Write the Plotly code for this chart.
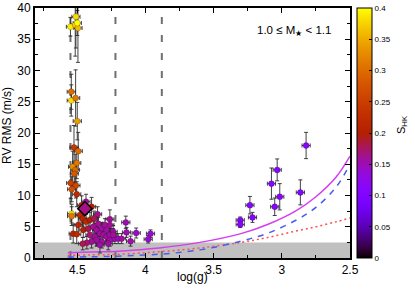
import numpy as np
import plotly.graph_objects as go

# ---- data: stars (log g, RV RMS, RMS error, S_HK) ----
logg = [4.51, 4.55, 4.515, 4.495, 4.50,
        4.544, 4.544, 4.512, 4.50, 4.524, 4.493, 4.504, 4.534, 4.515, 4.522,
        4.548, 4.51, 4.541, 4.504, 4.436, 4.468, 4.395, 4.541, 4.541, 4.48,
        4.351, 4.46, 4.436, 4.407, 4.376, 4.261, 4.144, 4.493, 4.53, 4.504,
        4.456, 4.42, 4.383, 4.358, 4.32, 4.285, 4.261, 4.297, 4.346, 4.237,
        4.334, 4.31, 4.37, 4.407, 4.285, 4.261, 4.32, 4.334, 4.358, 4.395,
        4.43, 4.46, 4.224, 4.20, 4.175, 4.139, 4.109, 4.068, 3.98, 3.963,
        4.261, 4.273, 4.237,
        2.822, 3.034, 3.076, 3.015, 3.052, 2.864, 3.234, 3.215, 3.305, 3.305]
rv_rms = [38.6, 37.0, 37.3, 36.8, 37.6,
          26.6, 25.2, 25.6, 21.9, 17.7, 17.1, 15.2, 14.6, 14.1, 13.5,
          12.0, 11.6, 11.0, 10.2, 9.0, 8.45, 8.2, 7.1, 6.7, 6.9,
          7.0, 6.3, 5.8, 6.1, 6.3, 6.2, 5.7, 5.3, 3.9, 3.8,
          4.5, 4.7, 5.0, 4.5, 4.7, 4.5, 5.3, 5.3, 5.5, 4.2,
          3.9, 3.7, 3.4, 3.7, 3.4, 2.9, 2.6, 2.1, 2.9, 2.6,
          2.45, 2.3, 3.1, 3.1, 3.1, 4.1, 2.7, 4.0, 3.0, 3.9,
          3.7, 2.3, 3.7,
          18.0, 14.1, 11.9, 9.8, 8.2, 10.5, 8.45, 6.5, 6.06, 5.37]
rv_err = [5.0, 1.5, 5.0, 5.5, 2.0,
          2.8, 2.5, 4.5, 3.0, 3.5, 3.0, 2.5, 2.5, 2.5, 2.0,
          2.5, 2.0, 2.0, 2.0, 1.2, 1.5, 1.5, 1.5, 1.5, 1.5,
          1.2, 1.2, 1.2, 1.2, 1.2, 1.5, 1.0, 1.5, 1.5, 1.5,
          1.2, 1.2, 1.0, 1.0, 1.0, 1.0, 1.2, 1.0, 1.0, 1.0,
          1.0, 1.0, 1.0, 1.0, 1.0, 1.0, 1.0, 1.3, 1.0, 1.0,
          1.0, 1.0, 0.8, 0.8, 0.8, 0.8, 0.8, 0.8, 0.6, 0.6,
          1.0, 1.0, 1.0,
          2.1, 1.75, 2.5, 2.1, 1.4, 2.0, 1.4, 0.8, 0.5, 0.5]
s_hk = [0.38, 0.39, 0.37, 0.36, 0.40,
        0.30, 0.38, 0.31, 0.34, 0.24, 0.30, 0.31, 0.33, 0.30, 0.28,
        0.25, 0.26, 0.27, 0.22, 0.16, 0.22, 0.20, 0.38, 0.31, 0.22,
        0.165, 0.21, 0.22, 0.20, 0.18, 0.16, 0.15, 0.21, 0.21, 0.22,
        0.20, 0.18, 0.16, 0.16, 0.155, 0.155, 0.16, 0.16, 0.16, 0.155,
        0.155, 0.16, 0.16, 0.17, 0.155, 0.155, 0.16, 0.155, 0.155, 0.16,
        0.17, 0.18, 0.15, 0.15, 0.155, 0.15, 0.155, 0.14, 0.14, 0.14,
        0.155, 0.155, 0.16,
        0.11, 0.11, 0.11, 0.11, 0.11, 0.11, 0.11, 0.11, 0.11, 0.11]
logg_err = 0.03

# highlighted star (diamond)
sun_logg = [4.444]
sun_rms = [7.9]
sun_shk = [0.165]

# model curves
curve_logg = [4.57, 4.4, 4.2, 3.9, 3.6, 3.3, 3.1, 2.9, 2.75, 2.6, 2.5]
curve_solid = [0.85, 0.95, 1.1, 1.6, 2.5, 3.9, 5.4, 7.5, 9.8, 13.0, 16.3]
curve_dashed = [0.15, 0.2, 0.3, 0.6, 1.3, 2.7, 4.0, 6.0, 8.1, 11.4, 15.0]
curve_dotted = [0.4, 0.5, 0.6, 1.0, 1.6, 2.5, 3.3, 4.3, 5.0, 5.8, 6.4]

vlines = [4.55, 4.22, 3.88]
x_ticks = [4.5, 4.0, 3.5, 3.0, 2.5]
x_ticklabels = ["4.5", "4", "3.5", "3", "2.5"]
cb_ticks = [0, 0.05, 0.1, 0.15, 0.2, 0.25, 0.3, 0.35, 0.4]
cb_ticklabels = ["0", "0.05", "0.1", "0.15", "0.2", "0.25", "0.3", "0.35", "0.4"]

# gnuplot-like default palette (rgbformulae 7,5,15)
def pal(t):
    r = np.sqrt(t)
    g = t ** 3
    b = max(0.0, np.sin(2 * np.pi * t))
    return "rgb(%d,%d,%d)" % (round(255 * r), round(255 * g), round(255 * b))

colorscale = [[t, pal(t)] for t in np.linspace(0, 1, 41)]

FONT = "Liberation Sans, Arial, sans-serif"
W, H = 415, 291
ML, MR, MT, MB = 35, 65, 8, 33
PW, PH = W - ML - MR, H - MT - MB

fig = go.Figure()

fig.add_trace(go.Scatter(x=curve_logg, y=curve_dotted, mode="lines", line_shape="spline",
                         line=dict(color="#ff5050", width=1.5, dash="2px,3px"),
                         hoverinfo="skip", showlegend=False))
fig.add_trace(go.Scatter(x=curve_logg, y=curve_dashed, mode="lines", line_shape="spline",
                         line=dict(color="#4a5cf0", width=1.5, dash="6px,6px"),
                         hoverinfo="skip", showlegend=False))
fig.add_trace(go.Scatter(x=curve_logg, y=curve_solid, mode="lines", line_shape="spline",
                         line=dict(color="#d63cf0", width=1.5),
                         hoverinfo="skip", showlegend=False))

fig.add_trace(go.Scatter(
    x=logg, y=rv_rms, mode="markers",
    error_y=dict(type="data", array=rv_err, color="rgba(45,45,45,0.9)", thickness=1, width=2),
    error_x=dict(type="constant", value=logg_err, color="rgba(45,45,45,0.9)", thickness=1, width=2),
    marker=dict(size=6, color=s_hk, coloraxis="coloraxis",
                line=dict(width=0.5, color="rgba(0,0,0,0.4)")),
    showlegend=False))

fig.add_trace(go.Scatter(
    x=sun_logg, y=sun_rms, mode="markers",
    marker=dict(size=11, symbol="diamond", color=sun_shk, coloraxis="coloraxis",
                line=dict(width=1.5, color="black")),
    showlegend=False))

fig.add_shape(type="rect", xref="paper", x0=0, x1=1, yref="y", y0=0, y1=2.5,
              fillcolor="#c0c0c0", line=dict(width=0), layer="below")
for xv in vlines:
    fig.add_shape(type="line", xref="x", x0=xv, x1=xv, yref="paper", y0=0, y1=1,
                  line=dict(color="#707070", width=2, dash="7px,11px"), layer="below")

def px_x(p):
    return (p - ML) / PW

def px_y(p):
    return 1 - (p - MT) / PH

fig.add_annotation(text="1.0 ≤ M<sub>★</sub> < 1.1", xref="paper", yref="paper",
                   x=px_x(294), y=px_y(31), showarrow=False,
                   xanchor="center", yanchor="middle",
                   font=dict(family=FONT, size=11.5, color="black"))

# axis titles as annotations (pixel-placed)
fig.add_annotation(text="log(g)", xref="paper", yref="paper",
                   x=px_x(192), y=px_y(277), showarrow=False,
                   xanchor="center", yanchor="middle",
                   font=dict(family=FONT, size=12, color="black"))
fig.add_annotation(text="RV RMS (m/s)", xref="paper", yref="paper",
                   x=px_x(7), y=px_y(126), showarrow=False, textangle=-90,
                   xanchor="center", yanchor="middle",
                   font=dict(family=FONT, size=12, color="black"))
fig.add_annotation(text="S<sub>HK</sub>", xref="paper", yref="paper",
                   x=px_x(402), y=px_y(125), showarrow=False, textangle=-90,
                   xanchor="center", yanchor="middle",
                   font=dict(family=FONT, size=11, color="black"))

axis_common = dict(showline=True, linewidth=2, linecolor="black", mirror="ticks",
                   ticks="inside", ticklen=5, tickwidth=1, tickcolor="black",
                   showgrid=False, zeroline=False, automargin=False,
                   tickfont=dict(family=FONT, size=12, color="black"))

fig.update_xaxes(range=[4.81, 2.5], tickvals=x_ticks, ticktext=x_ticklabels,
                 minor=dict(tickvals=[4.75, 4.25, 3.75, 3.25, 2.75], ticks="inside", ticklen=3,
                            tickcolor="black"),
                 **axis_common)
fig.update_yaxes(range=[0, 40], dtick=5,
                 minor=dict(dtick=2.5, ticks="inside", ticklen=3, tickcolor="black"),
                 **axis_common)

fig.update_layout(
    width=W, height=H,
    margin=dict(l=ML, r=MR, t=MT, b=MB, autoexpand=False),
    paper_bgcolor="white", plot_bgcolor="white",
    coloraxis=dict(colorscale=colorscale, cmin=0, cmax=0.4,
                   colorbar=dict(x=px_x(357), xanchor="left", xpad=0,
                                 y=0.5, yanchor="middle", len=1, lenmode="fraction", ypad=0,
                                 thickness=15, outlinewidth=1, outlinecolor="black",
                                 tickvals=cb_ticks, ticktext=cb_ticklabels,
                                 ticks="inside", ticklen=3, tickcolor="black",
                                 tickfont=dict(family=FONT, size=8, color="black"))),
    font=dict(family=FONT),
)

fig.write_html("out.html", config={"displayModeBar": False},
               post_script="document.body.style.margin='0px';document.body.style.overflow='hidden';")
